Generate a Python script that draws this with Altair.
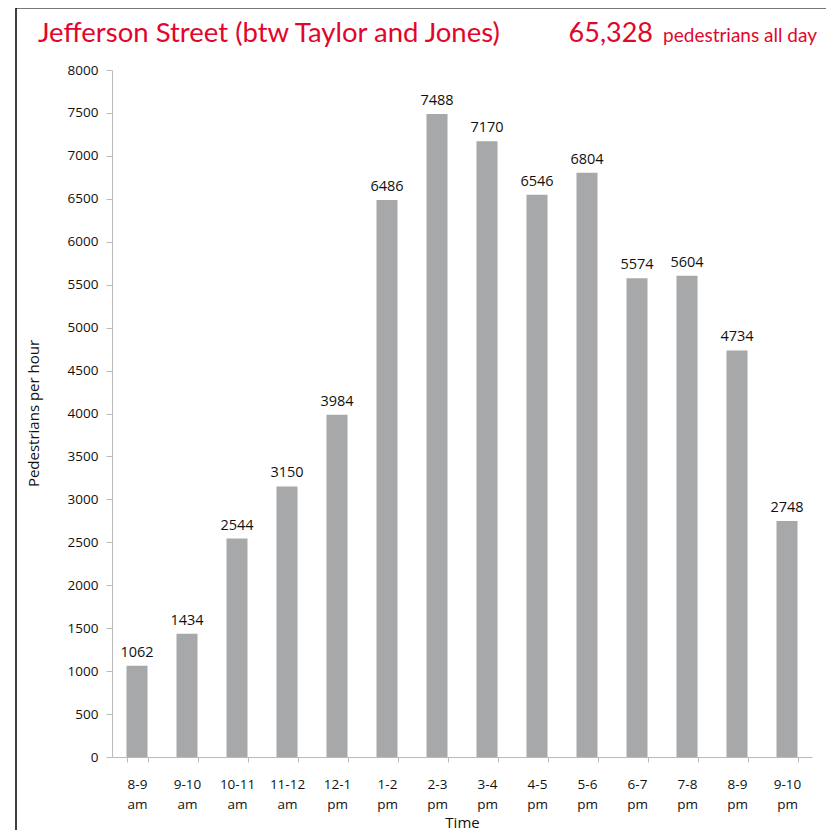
import altair as alt
import pandas as pd

periods = ["8-9 am", "9-10 am", "10-11 am", "11-12 am", "12-1 pm", "1-2 pm", "2-3 pm",
           "3-4 pm", "4-5 pm", "5-6 pm", "6-7 pm", "7-8 pm", "8-9 pm", "9-10 pm"]
counts = [1062, 1434, 2544, 3150, 3984, 6486, 7488, 7170, 6546, 6804, 5574, 5604, 4734, 2748]
y_ticks = list(range(0, 8001, 500))

title_text = "Jefferson Street (btw Taylor and Jones)"
total_text = "65,328"
total_suffix = "pedestrians all day"

df = pd.DataFrame({"period": periods, "count": counts})

RED = "#e2062c"
FONT = "Open Sans"
TFONT = "Lato"

x_enc = alt.X("period:N", sort=periods, title="Time",
              scale=alt.Scale(paddingInner=0.58, paddingOuter=0.29),
              axis=alt.Axis(labelAngle=0, labelExpr="split(datum.label, ' ')",
                            labelFont=FONT, labelFontSize=13.5, labelColor="#111",
                            labelLineHeight=20, labelPadding=15, labelBaseline="top",
                            tickBand="extent", tickSize=5, tickColor="#bbbbbb",
                            domainColor="#bbbbbb", titleFont=FONT, titleFontSize=15,
                            titleFontWeight="normal", titleColor="#111",
                            titleX=350, titleY=70, titleAlign="center",
                            titleBaseline="alphabetic"))
y_enc = alt.Y("count:Q", title="Pedestrians per hour",
              scale=alt.Scale(domain=[0, 8000], nice=False),
              axis=alt.Axis(values=y_ticks, format="d", grid=False, labelFont=FONT,
                            labelFontSize=13.5, labelColor="#111", labelPadding=8, tickSize=6,
                            tickColor="#bbbbbb", domainColor="#bbbbbb",
                            titleFont=FONT, titleFontSize=15, titleFontWeight="normal",
                            titleColor="#111", titleX=-79, titleY=343, titleAngle=-90,
                            titleAlign="center", titleBaseline="middle"))

bars = alt.Chart(df).mark_bar(color="#a7a8aa").encode(x=x_enc, y=y_enc)
labels = alt.Chart(df).mark_text(baseline="bottom", dy=-6, font=FONT, fontSize=14.5,
                                 color="#111").encode(
    x=alt.X("period:N", sort=periods), y="count:Q", text="count:Q")

base = alt.Chart(pd.DataFrame({"a": [0]}))
title1 = base.mark_text(align="left", baseline="alphabetic", font=TFONT, fontSize=27.5,
                        color=RED).encode(x=alt.value(-74), y=alt.value(-28),
                                          text=alt.value(title_text))
title2 = base.mark_text(align="right", baseline="alphabetic", font=TFONT, fontSize=27,
                        color=RED).encode(x=alt.value(541), y=alt.value(-28),
                                          text=alt.value(total_text))
title3 = base.mark_text(align="right", baseline="alphabetic", font=TFONT, fontSize=19,
                        color=RED).encode(x=alt.value(705), y=alt.value(-28),
                                          text=alt.value(total_suffix))
frame_top = base.mark_rule(color="#777777", strokeWidth=2).encode(
    x=alt.value(-96), x2=alt.value(720), y=alt.value(-62))
frame_left = base.mark_rule(color="#000000", strokeWidth=1.5).encode(
    x=alt.value(-96), y=alt.value(-62), y2=alt.value(770))

chart = alt.layer(bars, labels, title1, title2, title3, frame_top, frame_left).properties(
    width=700, height=687,
    autosize=alt.AutoSizeParams(type="none"),
    padding={"left": 104, "top": 62, "right": 14, "bottom": 73},
).configure_view(stroke=None)

chart.save("out.html", embed_options={"renderer": "svg", "actions": False})
